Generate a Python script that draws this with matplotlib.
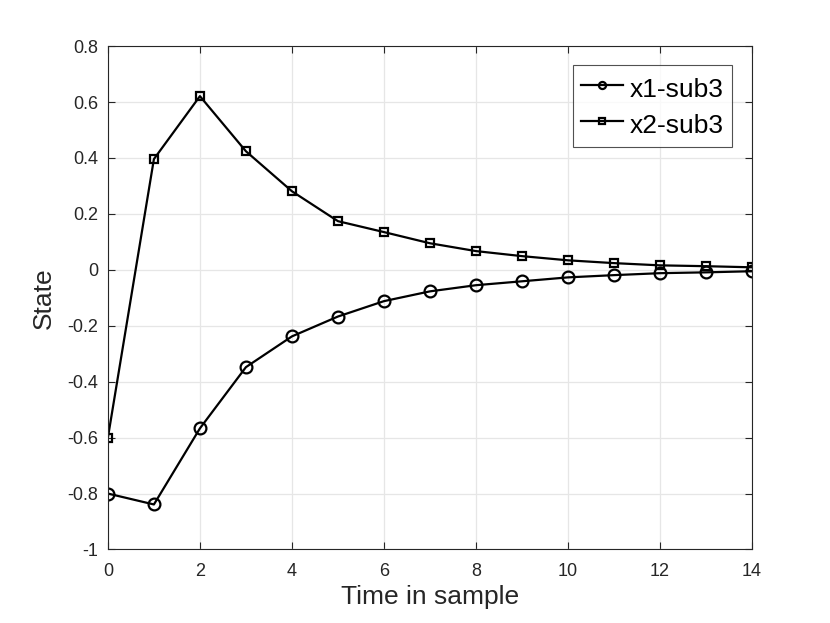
import numpy as np
import matplotlib
matplotlib.use("Agg")
import matplotlib.pyplot as plt

# ---- data ----
t = list(range(15))
x1_sub3 = [-0.800, -0.839, -0.567, -0.348, -0.238, -0.167, -0.112, -0.077,
           -0.055, -0.041, -0.027, -0.019, -0.012, -0.009, -0.005]
x2_sub3 = [-0.600, 0.396, 0.621, 0.424, 0.281, 0.174, 0.135, 0.095,
           0.067, 0.049, 0.034, 0.024, 0.016, 0.013, 0.009]
series_names = ["x1-sub3", "x2-sub3"]
xticks = list(range(0, 15, 2))
yticks = [-1, -0.8, -0.6, -0.4, -0.2, 0, 0.2, 0.4, 0.6, 0.8]
ytick_labels = ["-1", "-0.8", "-0.6", "-0.4", "-0.2", "0", "0.2", "0.4", "0.6", "0.8"]

plt.rcParams["font.family"] = ["Liberation Sans", "DejaVu Sans"]

fig = plt.figure(figsize=(8.3, 6.23), dpi=100)
ax = fig.add_axes([0.130, 0.118, 0.776, 0.808])

ax.plot(t, x1_sub3, color="black", lw=1.6, marker="o", ms=8.5, mfc="none",
        mew=1.6, label=series_names[0])
ax.plot(t, x2_sub3, color="black", lw=1.6, marker="s", ms=6.3, mfc="none",
        mew=1.6, label=series_names[1])

ax.set_xlim(0, 14)
ax.set_ylim(-1, 0.8)
ax.set_xticks(xticks)
ax.set_xticklabels([str(v) for v in xticks])
ax.set_yticks(yticks)
ax.set_yticklabels(ytick_labels)
ax.tick_params(direction="in", top=True, right=True, labelsize=13,
               colors="#262626", length=5, width=0.8)
ax.tick_params(axis="x", pad=10)
ax.tick_params(axis="y", pad=7)
for sp in ax.spines.values():
    sp.set_color("#262626")
    sp.set_linewidth(0.8)
ax.grid(True, color="#e6e6e6", lw=0.9)
ax.set_axisbelow(True)

ax.set_xlabel("Time in sample", fontsize=19, color="#262626", labelpad=3)
ax.set_ylabel("State", fontsize=19, color="#262626", labelpad=8)

leg = ax.legend(loc="upper right", bbox_to_anchor=(0.969, 0.962), fontsize=19,
                frameon=True, fancybox=False, edgecolor="#262626",
                markerscale=0.6, handlelength=1.6, handletextpad=0.27,
                handleheight=1.35, borderpad=0.3, labelspacing=0.25,
                borderaxespad=0)
leg.get_frame().set_linewidth(0.8)

fig.savefig("out.png", dpi=100)
